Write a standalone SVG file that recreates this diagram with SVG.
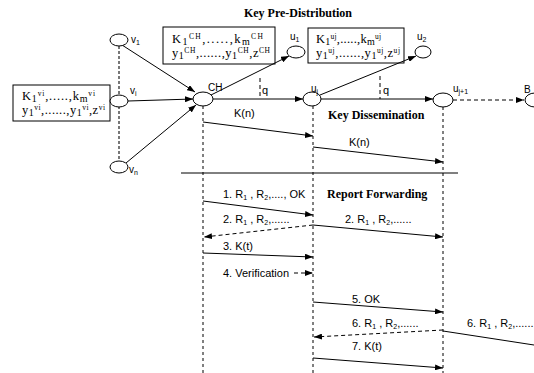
<svg xmlns="http://www.w3.org/2000/svg" width="534" height="373" viewBox="0 0 534 373">
<style>
.node{fill:#fff;stroke:#000;stroke-width:1}
.ln{stroke:#000;stroke-width:1;fill:none}
.dash{stroke:#000;stroke-width:1;stroke-dasharray:4,3;fill:none}
.life{stroke:#000;stroke-width:1;stroke-dasharray:3,3;fill:none}
.gdash{stroke:#777;stroke-width:2;stroke-dasharray:3,2;fill:none}
.box{fill:#fff;stroke:#000;stroke-width:1}
.bt{font-family:"Liberation Serif",serif;font-size:12.5px;fill:#000}
.sp{font-size:7.5px}
.sb{font-size:10px}
.title{font-family:"Liberation Serif",serif;font-size:12px;font-weight:bold;fill:#000}
.lbl{font-family:"Liberation Sans",sans-serif;font-size:11px;fill:#000}
.nl{font-family:"Liberation Sans",sans-serif;font-size:10px;fill:#000}
.ss{font-size:7px}
</style>
<defs>
<marker id="ah" markerWidth="8" markerHeight="6" refX="8" refY="3" orient="auto" markerUnits="userSpaceOnUse">
<path d="M0,0 L8,3 L0,6 Z" fill="#000"/>
</marker>
</defs>

<text class="title" x="298" y="17" text-anchor="middle">Key Pre-Distribution</text>

<!-- key boxes -->
<g id="box-vi">
<rect class="box" x="13" y="85" width="97" height="36"/>
<text class="bt" x="22" y="100" textLength="73" lengthAdjust="spacing">K<tspan class="sb" dy="1.5">1</tspan><tspan class="sp" dy="-5.5">vi</tspan><tspan dy="4">,.....,k</tspan><tspan class="sb" dy="1.5">m</tspan><tspan class="sp" dy="-5.5">vi</tspan></text>
<text class="bt" x="22" y="114" textLength="83" lengthAdjust="spacing">y<tspan class="sb" dy="1.5">1</tspan><tspan class="sp" dy="-5.5">vi</tspan><tspan dy="4">,......,y</tspan><tspan class="sb" dy="1.5">1</tspan><tspan class="sp" dy="-5.5">vi</tspan><tspan dy="4">,z</tspan><tspan class="sp" dy="-4">vi</tspan></text>
</g>
<g id="box-ch">
<rect class="box" x="163" y="27" width="112" height="37"/>
<text class="bt" x="172" y="43" textLength="91" lengthAdjust="spacing">K<tspan class="sb" dy="1.5">1</tspan><tspan class="sp" dy="-5.5">CH</tspan><tspan dy="4">,.....,k</tspan><tspan class="sb" dy="1.5">m</tspan><tspan class="sp" dy="-5.5">CH</tspan></text>
<text class="bt" x="172" y="57" textLength="98" lengthAdjust="spacing">y<tspan class="sb" dy="1.5">1</tspan><tspan class="sp" dy="-5.5">CH</tspan><tspan dy="4">,......,y</tspan><tspan class="sb" dy="1.5">1</tspan><tspan class="sp" dy="-5.5">CH</tspan><tspan dy="4">,z</tspan><tspan class="sp" dy="-4">CH</tspan></text>
</g>
<g id="box-uj">
<rect class="box" x="308" y="28" width="96" height="35"/>
<text class="bt" x="316" y="43" textLength="65" lengthAdjust="spacing">K<tspan class="sb" dy="1.5">1</tspan><tspan class="sp" dy="-5.5">uj</tspan><tspan dy="4">,.....,k</tspan><tspan class="sb" dy="1.5">m</tspan><tspan class="sp" dy="-5.5">uj</tspan></text>
<text class="bt" x="316" y="57" textLength="84" lengthAdjust="spacing">y<tspan class="sb" dy="1.5">1</tspan><tspan class="sp" dy="-5.5">uj</tspan><tspan dy="4">,......,y</tspan><tspan class="sb" dy="1.5">1</tspan><tspan class="sp" dy="-5.5">uj</tspan><tspan dy="4">,z</tspan><tspan class="sp" dy="-4">uj</tspan></text>
</g>

<!-- connectors -->
<g id="connectors">
<line class="gdash" x1="119" y1="46" x2="119" y2="161"/>
<line class="ln" x1="122" y1="45" x2="195" y2="92" marker-end="url(#ah)"/>
<line class="ln" x1="128" y1="101" x2="193" y2="99" marker-end="url(#ah)"/>
<line class="ln" x1="126" y1="163" x2="196" y2="105" marker-end="url(#ah)"/>
<line class="ln" x1="211" y1="95" x2="289" y2="56" marker-end="url(#ah)"/>
<line class="ln" x1="213" y1="99" x2="303" y2="99" marker-end="url(#ah)"/>
<line class="ln" x1="320" y1="95" x2="416" y2="56" marker-end="url(#ah)"/>
<line class="ln" x1="321" y1="99" x2="433" y2="99" marker-end="url(#ah)"/>
<line class="dash" x1="453" y1="100" x2="524" y2="100" marker-end="url(#ah)"/>
<line class="dash" x1="260" y1="78" x2="260" y2="99"/>
<line class="dash" x1="380" y1="76" x2="380" y2="99"/>
<!-- lifelines -->
<line class="life" x1="203" y1="106" x2="203" y2="373"/>
<line class="life" x1="313" y1="106" x2="313" y2="373"/>
<line class="life" x1="443" y1="107" x2="443" y2="373"/>
<line class="ln" x1="181" y1="173" x2="458" y2="173"/>
<!-- messages -->
<line class="ln" x1="203" y1="122" x2="313" y2="136" marker-end="url(#ah)"/>
<line class="ln" x1="313" y1="147" x2="443" y2="162" marker-end="url(#ah)"/>
<line class="ln" x1="203" y1="201" x2="313" y2="215" marker-end="url(#ah)"/>
<line class="dash" x1="313" y1="225" x2="204" y2="237" marker-end="url(#ah)"/>
<line class="ln" x1="313" y1="225" x2="443" y2="237" marker-end="url(#ah)"/>
<line class="ln" x1="203" y1="253" x2="313" y2="257" marker-end="url(#ah)"/>
<line class="dash" x1="294" y1="273" x2="313" y2="273" marker-end="url(#ah)"/>
<line class="ln" x1="313" y1="302" x2="443" y2="312" marker-end="url(#ah)"/>
<line class="dash" x1="443" y1="330" x2="314" y2="337" marker-end="url(#ah)"/>
<line class="ln" x1="443" y1="331" x2="534" y2="345"/>
<line class="ln" x1="313" y1="358" x2="443" y2="368" marker-end="url(#ah)"/>
</g>

<!-- nodes -->
<g id="v1"><ellipse class="node" cx="119" cy="40" rx="9" ry="6"/><text class="nl" x="131" y="43">v<tspan class="ss" dy="2">1</tspan></text></g>
<g id="vi"><ellipse class="node" cx="119" cy="101" rx="9" ry="6"/><text class="nl" x="130" y="94">v<tspan class="ss" dy="2">i</tspan></text></g>
<g id="vn"><ellipse class="node" cx="119" cy="167" rx="9" ry="6"/><text class="nl" x="129" y="173">v<tspan class="ss" dy="2">n</tspan></text></g>
<g id="CH"><ellipse class="node" cx="203" cy="99" rx="10" ry="7"/><text class="nl" x="208" y="91">CH</text></g>
<g id="u1"><ellipse class="node" cx="296" cy="52" rx="9" ry="6"/><text class="nl" x="290" y="40">u<tspan class="ss" dy="2">1</tspan></text></g>
<g id="uj"><ellipse class="node" cx="312" cy="99" rx="9" ry="7"/><text class="nl" x="311" y="92">u<tspan class="ss" dy="2">j</tspan></text></g>
<g id="u2"><ellipse class="node" cx="423" cy="52" rx="8" ry="6"/><text class="nl" x="417" y="40">u<tspan class="ss" dy="2">2</tspan></text></g>
<g id="uj1"><ellipse class="node" cx="443" cy="100" rx="10" ry="7"/><text class="nl" x="453" y="92">u<tspan class="ss" dy="2">j+1</tspan></text></g>
<g id="B"><ellipse class="node" cx="535" cy="100" rx="10" ry="7"/><text class="nl" x="524" y="93">B</text></g>

<!-- labels -->
<text class="lbl" x="262" y="94" font-size="10">q</text>
<text class="lbl" x="383" y="94" font-size="10">q</text>
<text class="lbl" x="234" y="117">K(n)</text>
<text class="lbl" x="349" y="146">K(n)</text>
<text class="title" x="328" y="119">Key Dissemination</text>
<text class="title" x="327" y="198">Report Forwarding</text>
<text class="lbl" x="223" y="198">1. R<tspan class="ss" dy="2">1</tspan><tspan dy="-2"> , R</tspan><tspan class="ss" dy="2">2</tspan><tspan dy="-2">,...., OK</tspan></text>
<text class="lbl" x="223" y="223">2. R<tspan class="ss" dy="2">1</tspan><tspan dy="-2"> , R</tspan><tspan class="ss" dy="2">2</tspan><tspan dy="-2">,......</tspan></text>
<text class="lbl" x="345" y="223">2. R<tspan class="ss" dy="2">1</tspan><tspan dy="-2"> , R</tspan><tspan class="ss" dy="2">2</tspan><tspan dy="-2">,......</tspan></text>
<text class="lbl" x="223" y="250">3. K(t)</text>
<text class="lbl" x="223" y="277">4. Verification</text>
<text class="lbl" x="352" y="303">5. OK</text>
<text class="lbl" x="352" y="327">6. R<tspan class="ss" dy="2">1</tspan><tspan dy="-2"> , R</tspan><tspan class="ss" dy="2">2</tspan><tspan dy="-2">,......</tspan></text>
<text class="lbl" x="467" y="327">6. R<tspan class="ss" dy="2">1</tspan><tspan dy="-2"> , R</tspan><tspan class="ss" dy="2">2</tspan><tspan dy="-2">,......</tspan></text>
<text class="lbl" x="352" y="350">7. K(t)</text>
</svg>
